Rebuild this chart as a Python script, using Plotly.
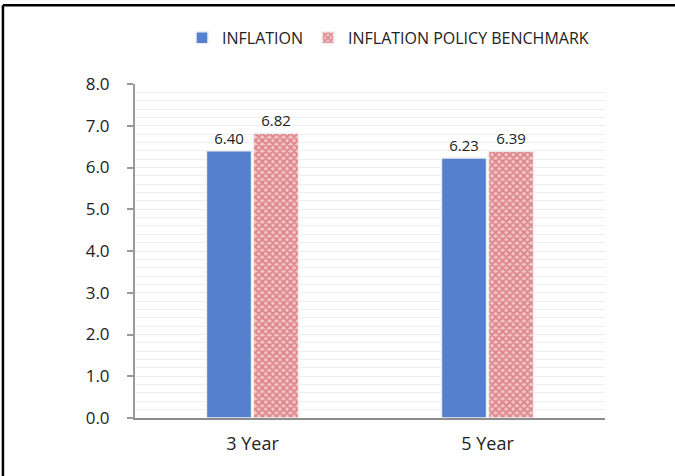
import plotly.graph_objects as go

categories = ["3 Year", "5 Year"]
inflation = [6.40, 6.23]
benchmark = [6.82, 6.39]
series_names = ["INFLATION", "INFLATION POLICY BENCHMARK"]
y_ticks = [0, 1, 2, 3, 4, 5, 6, 7, 8]

FONT = "Open Sans"

fig = go.Figure()
fig.add_trace(go.Bar(
    x=categories, y=inflation, name=series_names[0],
    marker=dict(color="#5480cd", line=dict(color="#f0f0f0", width=1.5)),
    text=[f"{v:.2f}" for v in inflation], textposition="outside",
    textfont=dict(size=15, color="#222", family=FONT), cliponaxis=False,
))
fig.add_trace(go.Bar(
    x=categories, y=benchmark, name=series_names[1],
    marker=dict(color="#f3c9c9", line=dict(color="#f0f0f0", width=1.5),
                pattern=dict(shape="x", fgcolor="#c8414e", bgcolor="#f2c6c8",
                             size=5, solidity=0.6)),
    text=[f"{v:.2f}" for v in benchmark], textposition="outside",
    textfont=dict(size=15, color="#222", family=FONT), cliponaxis=False,
))

fig.update_layout(
    width=675, height=476,
    margin=dict(l=135, r=70, t=84, b=58),
    paper_bgcolor="white", plot_bgcolor="white",
    barmode="group", bargap=0.6, bargroupgap=0.04,
    font=dict(family=FONT, color="#222"),
    legend=dict(orientation="h", x=0.10, y=1.138, xanchor="left", yanchor="middle",
                font=dict(size=16, family=FONT, color="#222"),
                itemwidth=30, bgcolor="rgba(0,0,0,0)"),
    xaxis=dict(showline=True, linecolor="#8c8c8c", linewidth=2,
               tickfont=dict(size=18, family=FONT, color="#222"), ticks="",
               ticklabelstandoff=8),
    yaxis=dict(range=[0, 8], tickvals=y_ticks, ticktext=[f"{v:.1f}" for v in y_ticks],
               showline=True, linecolor="#9a9a9a", linewidth=2,
               ticks="outside", ticklen=6, tickcolor="#9a9a9a", tickwidth=1.5,
               ticklabelstandoff=14,
               showgrid=True, gridcolor="#ececec", gridwidth=1,
               minor=dict(dtick=0.2, showgrid=True, gridcolor="#efefef", gridwidth=1),
               tickfont=dict(size=17, family=FONT, color="#222"), zeroline=False),
    shapes=[
        dict(type="line", xref="paper", yref="paper",
             x0=-0.281, x1=1.2, y0=1.236, y1=1.236, line=dict(color="black", width=2.5)),
        dict(type="line", xref="paper", yref="paper",
             x0=-0.281, x1=-0.281, y0=1.236, y1=-0.2, line=dict(color="black", width=2.5)),
    ],
)

fig.write_html("out.html", config={"displayModeBar": False},
               post_script="document.body.style.margin='0px';")
